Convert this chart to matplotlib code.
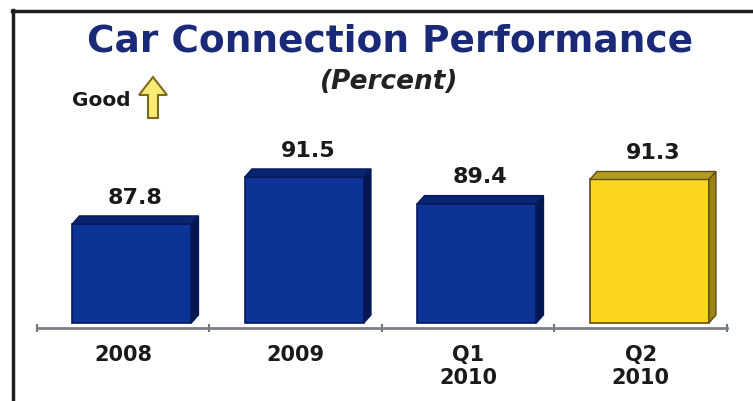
import numpy as np
import matplotlib
matplotlib.use("Agg")
import matplotlib.pyplot as plt
from matplotlib.patches import Polygon
from matplotlib.lines import Line2D

# data
categories = ["2008", "2009", "Q1\n2010", "Q2\n2010"]
values = [87.8, 91.5, 89.4, 91.3]
highlight = [False, False, False, True]

W, H = 753, 401
fig = plt.figure(figsize=(W / 100, H / 100), dpi=100)
fig.patch.set_facecolor("white")


def px(x, y):
    # pixel position (from top-left) -> figure fraction
    return (x / W, 1 - y / H)


# plot area: x from 37 to 727 px, bottom at 328 px, top at 130 px
ax = fig.add_axes([37 / W, 1 - 328 / H, 690 / W, 198 / H])
base = 80.0
ax.set_xlim(-0.5, len(categories) - 0.5)
ax.set_ylim(79.6, 95.2)

width = 0.69
shift = 0.05
dx, dy = 0.041, 0.63  # depth of the 3d boxes

blue = dict(front="#0e3396", top="#0a2470", side="#061650", edge="#051a5c")
gold = dict(front="#fdd51e", top="#b49c22", side="#9a8418", edge="#5e4e10")

x = np.arange(len(categories)) + shift
for xi, v, hl in zip(x, values, highlight):
    c = gold if hl else blue
    l, r = xi - width / 2, xi + width / 2
    ax.bar(xi, v - base, bottom=base, width=width, color=c["front"],
           edgecolor=c["edge"], linewidth=1.2, zorder=3)
    top = Polygon([(l, v), (r, v), (r + dx, v + dy), (l + dx, v + dy)],
                  closed=True, facecolor=c["top"], edgecolor=c["edge"],
                  linewidth=1, zorder=3)
    side = Polygon([(r, base), (r + dx, base + dy), (r + dx, v + dy), (r, v)],
                   closed=True, facecolor=c["side"], edgecolor=c["edge"],
                   linewidth=1, zorder=3)
    ax.add_patch(top)
    ax.add_patch(side)
    ax.annotate(f"{v:.1f}", (xi + dx / 2, v + dy), xytext=(0, 6),
                textcoords="offset points", ha="center", va="bottom",
                fontsize=16, fontweight="bold", color="#1a1a1a")

ax.set_xticks(np.arange(len(categories)))
ax.set_xticklabels(categories, fontsize=15, fontweight="bold", color="#1a1a1a")
ax.set_xticks(np.arange(len(categories) + 1) - 0.5, minor=True)
ax.tick_params(axis="x", which="major", length=0, pad=12)
ax.tick_params(axis="x", which="minor", length=6, width=1.5,
               direction="inout", color="#6d7379")
ax.set_yticks([])
for s in ["left", "right", "top"]:
    ax.spines[s].set_visible(False)
ax.spines["bottom"].set_color("#7a8088")
ax.spines["bottom"].set_linewidth(2)
ax.patch.set_alpha(0)

# titles
fig.text(*px(390, 41), "Car Connection Performance", ha="center", va="center",
         fontsize=27, fontweight="bold", color="#1b2a78")
fig.text(*px(389, 82), "(Percent)", ha="center", va="center",
         fontsize=19, fontweight="bold", fontstyle="italic", color="#222222")

# "Good" with up arrow
fig.text(*px(72, 101), "Good", ha="left", va="center",
         fontsize=14.5, fontweight="bold", color="#1a1a1a")
arrow_pts = [px(148, 118), px(158, 118), px(158, 95), px(167, 95),
             px(153, 77), px(139, 95), px(148, 95)]
fig.add_artist(Polygon(arrow_pts, closed=True, transform=fig.transFigure,
                       facecolor="#fbe978", edgecolor="#7d6b1c", linewidth=1.5))

# frame lines (top and left)
fig.add_artist(Line2D([12 / W, 1], [1 - 11 / H, 1 - 11 / H],
                      transform=fig.transFigure, color="#1e1e1e", linewidth=2.5))
fig.add_artist(Line2D([13 / W, 13 / W], [0, 1 - 10 / H],
                      transform=fig.transFigure, color="#1e1e1e", linewidth=2.5))

fig.savefig("out.png", dpi=100)
